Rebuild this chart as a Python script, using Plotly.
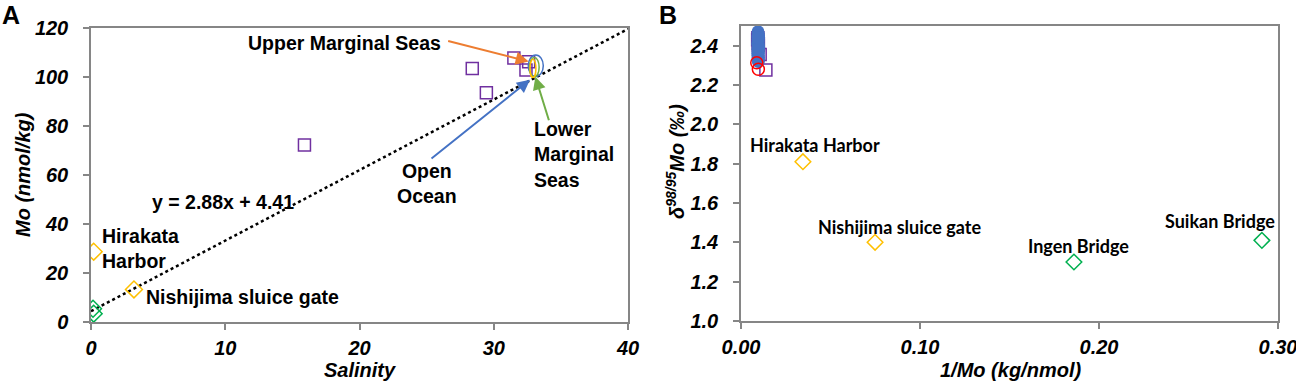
import plotly.graph_objects as go

# ---------------- Panel A data ----------------
estuary_sal = [15.9, 28.4, 29.45, 31.5, 32.4, 32.6]
estuary_mo = [72.2, 103.5, 93.6, 107.8, 102.9, 106.2]

harbor_sal = [0.2, 3.2]          # Hirakata Harbor, Nishijima sluice gate
harbor_mo = [28.7, 13.3]

river_sal = [0.15, 0.2]          # Ingen Bridge, Suikan Bridge
river_mo = [5.4, 3.4]

trend_slope = 2.88
trend_intercept = 4.41
trend_x = [0, 40]

# ellipses in panel A: centre x, centre y, half-width, half-height
ell_names = ["Open Ocean", "Lower Marginal Seas", "Upper Marginal Seas"]
ell_cx = [33.13, 33.02, 32.92]
ell_cy = [104.6, 104.0, 103.5]
ell_rx = [0.56, 0.36, 0.22]
ell_ry = [4.4, 4.0, 3.7]
ell_col = ["#4472C4", "#70AD47", "#FFC000"]

# ---------------- Panel B data ----------------
ocean_inv_mo = [0.0095, 0.0096, 0.0094, 0.0097, 0.0095, 0.0096, 0.0094, 0.0098, 0.0095, 0.0097,
                0.0096, 0.0094, 0.0095, 0.0097, 0.0096, 0.0098, 0.0094, 0.0095, 0.0097, 0.0096,
                0.0099, 0.0095, 0.0096, 0.0097]
ocean_d98 = [2.47, 2.46, 2.45, 2.44, 2.43, 2.42, 2.41, 2.40, 2.39, 2.38,
             2.37, 2.36, 2.35, 2.34, 2.33, 2.45, 2.41, 2.38, 2.36, 2.43,
             2.39, 2.44, 2.34, 2.32]

lower_inv_mo = [0.0088, 0.0097]
lower_d98 = [2.313, 2.28]

estuary_inv_mo = [0.0139, 0.00966, 0.0107, 0.0093, 0.0097, 0.0094]
estuary_d98 = [2.276, 2.40, 2.355, 2.43, 2.41, 2.44]

harbor_inv_mo = [0.0346, 0.0749]
harbor_d98 = [1.81, 1.40]

river_inv_mo = [0.186, 0.291]
river_d98 = [1.30, 1.41]

a_xticks = [0, 10, 20, 30, 40]
a_yticks = [0, 20, 40, 60, 80, 100, 120]
b_xticks = [0.0, 0.1, 0.2, 0.3]
b_xticklabels = ["0.00", "0.10", "0.20", "0.30"]
b_yticks = [1.0, 1.2, 1.4, 1.6, 1.8, 2.0, 2.2, 2.4]
b_yticklabels = ["1.0", "1.2", "1.4", "1.6", "1.8", "2.0", "2.2", "2.4"]

PURPLE = "#7030A0"
YELLOW = "#FFC000"
GREEN = "#00B050"
BLUE = "#4472C4"
RED = "#FF0000"
ORANGE = "#ED7D31"

fig = go.Figure()

# Panel A traces
fig.add_trace(go.Scatter(x=trend_x, y=[trend_slope * v + trend_intercept for v in trend_x],
                         mode="lines", line=dict(color="black", width=2.5, dash="dot"),
                         xaxis="x", yaxis="y", showlegend=False, hoverinfo="skip"))
fig.add_trace(go.Scatter(x=estuary_sal, y=estuary_mo, mode="markers",
                         marker=dict(symbol="square-open", size=12, color=PURPLE, line=dict(width=1.5)),
                         xaxis="x", yaxis="y", showlegend=False))
fig.add_trace(go.Scatter(x=harbor_sal, y=harbor_mo, mode="markers",
                         marker=dict(symbol="diamond-open", size=13, color=YELLOW, line=dict(width=1.5)),
                         xaxis="x", yaxis="y", showlegend=False))
fig.add_trace(go.Scatter(x=river_sal, y=river_mo, mode="markers",
                         marker=dict(symbol="diamond-open", size=13, color=GREEN, line=dict(width=1.5)),
                         xaxis="x", yaxis="y", showlegend=False))

# Panel B traces
fig.add_trace(go.Scatter(x=estuary_inv_mo, y=estuary_d98, mode="markers",
                         marker=dict(symbol="square-open", size=12, color=PURPLE, line=dict(width=1.5)),
                         xaxis="x2", yaxis="y2", showlegend=False))
fig.add_trace(go.Scatter(x=ocean_inv_mo, y=ocean_d98, mode="markers",
                         marker=dict(symbol="circle", size=13, color=BLUE, line=dict(width=0)),
                         xaxis="x2", yaxis="y2", showlegend=False))
fig.add_trace(go.Scatter(x=lower_inv_mo, y=lower_d98, mode="markers",
                         marker=dict(symbol="circle-open", size=12, color=RED, line=dict(width=1.5)),
                         xaxis="x2", yaxis="y2", showlegend=False))
fig.add_trace(go.Scatter(x=harbor_inv_mo, y=harbor_d98, mode="markers",
                         marker=dict(symbol="diamond-open", size=12, color=YELLOW, line=dict(width=1.5)),
                         xaxis="x2", yaxis="y2", showlegend=False))
fig.add_trace(go.Scatter(x=river_inv_mo, y=river_d98, mode="markers",
                         marker=dict(symbol="diamond-open", size=12, color=GREEN, line=dict(width=1.5)),
                         xaxis="x2", yaxis="y2", showlegend=False))

shapes = []
for cx, cy, rx, ry, c in zip(ell_cx, ell_cy, ell_rx, ell_ry, ell_col):
    shapes.append(dict(type="circle", xref="x", yref="y", x0=cx - rx, x1=cx + rx,
                       y0=cy - ry, y1=cy + ry, line=dict(color=c, width=1.5)))

TICKFONT = dict(family="Liberation Sans, Arial", size=20, color="black", weight="bold", style="italic")
LAB_A = dict(family="Liberation Sans, Arial", size=19.5, color="black", weight="bold")
LAB_B = dict(family="Lato", size=18, color="black", weight="bold")
TITLEFONT = dict(family="Liberation Sans, Arial", size=20, color="black", weight="bold", style="italic")

axis_common = dict(showline=True, linecolor="#868686", linewidth=1.5, mirror=True,
                   ticks="outside", ticklen=6, tickcolor="#868686", tickwidth=1.5,
                   showgrid=False, zeroline=False, tickfont=TICKFONT, automargin=False,
                   ticklabeloverflow="allow")

annotations = [
    # Panel letters
    dict(text="A", x=11, y=15, xref="paper", yref="paper", showarrow=False,
         font=dict(family="Liberation Sans, Arial", size=25, color="black", weight="bold")),
    dict(text="B", x=668, y=15, xref="paper", yref="paper", showarrow=False,
         font=dict(family="Liberation Sans, Arial", size=25, color="black", weight="bold")),
    # Panel A labels
    dict(text="y = 2.88x + 4.41", x=9.83, y=49.1, xref="x", yref="y", showarrow=False, font=LAB_A),
    dict(text="Hirakata<br>Harbor", x=0.67, y=30.2, xref="x", yref="y", xanchor="left",
         align="left", showarrow=False, font=LAB_A),
    dict(text="Nishijima sluice gate", x=3.95, y=10.2, xref="x", yref="y", xanchor="left",
         showarrow=False, font=LAB_A),
    dict(text="Upper Marginal Seas", x=26.2, y=113.9, xref="x", yref="y", xanchor="right",
         showarrow=False, font=LAB_A),
    dict(text="Open<br>Ocean", x=25.03, y=56.7, xref="x", yref="y", showarrow=False, font=LAB_A),
    dict(text="Lower<br>Marginal<br>Seas", x=32.85, y=68.2, xref="x", yref="y", xanchor="left",
         align="left", showarrow=False, font=LAB_A),
    # arrows
    dict(x=32.6, y=106.3, xref="x", yref="y", ax=-82, ay=-21, axref="pixel", ayref="pixel",
         showarrow=True, arrowhead=2, arrowsize=1.3, arrowwidth=2, arrowcolor=ORANGE, text=""),
    dict(x=32.7, y=98.9, xref="x", yref="y", ax=-100, ay=80, showarrow=True, arrowhead=2,
         arrowsize=1.3, arrowwidth=2, arrowcolor=BLUE, text=""),
    dict(x=33.1, y=100.1, xref="x", yref="y", ax=14, ay=45, showarrow=True, arrowhead=2,
         arrowsize=1.3, arrowwidth=2, arrowcolor="#70AD47", text=""),
    # Panel B labels
    dict(text="Hirakata Harbor", x=0.0413, y=1.895, xref="x2", yref="y2", showarrow=False, font=LAB_B),
    dict(text="Nishijima sluice gate", x=0.0888, y=1.478, xref="x2", yref="y2", showarrow=False, font=LAB_B),
    dict(text="Ingen Bridge", x=0.1888, y=1.383, xref="x2", yref="y2", showarrow=False, font=LAB_B),
    dict(text="Suikan Bridge", x=0.2676, y=1.509, xref="x2", yref="y2", showarrow=False, font=LAB_B),
    # Axis titles
    dict(text="Mo (nmol/kg)", x=23, y=175, xref="paper", yref="paper", textangle=-90,
         showarrow=False, font=TITLEFONT),
    dict(text="Salinity", x=360, y=370, xref="paper", yref="paper", showarrow=False, font=TITLEFONT),
    dict(text="δ<sup>98/95</sup>Mo (‰)", x=675, y=162, xref="paper", yref="paper", textangle=-90,
         showarrow=False, font=TITLEFONT),
    dict(text="1/Mo (kg/nmol)", x=1010, y=370, xref="paper", yref="paper", showarrow=False, font=TITLEFONT),
]

W, H = 1296, 383
for a in annotations:
    if a.get("xref") == "paper":
        a["x"] = a["x"] / W
        a["y"] = 1 - a["y"] / H
        a["xanchor"] = "center"
        a["yanchor"] = "middle"

fig.update_layout(
    width=W, height=H,
    margin=dict(l=0, r=0, t=0, b=0, autoexpand=False),
    paper_bgcolor="white", plot_bgcolor="white",
    showlegend=False,
    xaxis=dict(domain=[91 / W, 628 / W], range=[0, 40], tickvals=a_xticks,
               ticklabelstandoff=1, anchor="y", **axis_common),
    yaxis=dict(domain=[1 - 322 / H, 1 - 28 / H], range=[0, 120], tickvals=a_yticks,
               ticklabelstandoff=11, anchor="x", **axis_common),
    xaxis2=dict(domain=[741 / W, 1278 / W], range=[0, 0.30], tickvals=b_xticks,
                ticktext=b_xticklabels, ticklabelstandoff=1, anchor="y2", **axis_common),
    yaxis2=dict(domain=[1 - 321 / H, 1 - 26 / H], range=[1.0, 2.5], tickvals=b_yticks,
                ticktext=b_yticklabels, ticklabelstandoff=11, anchor="x2", **axis_common),
    shapes=shapes,
    annotations=annotations,
)

fig.write_html("out.html", config={"displayModeBar": False},
               post_script="document.body.style.margin='0';")
